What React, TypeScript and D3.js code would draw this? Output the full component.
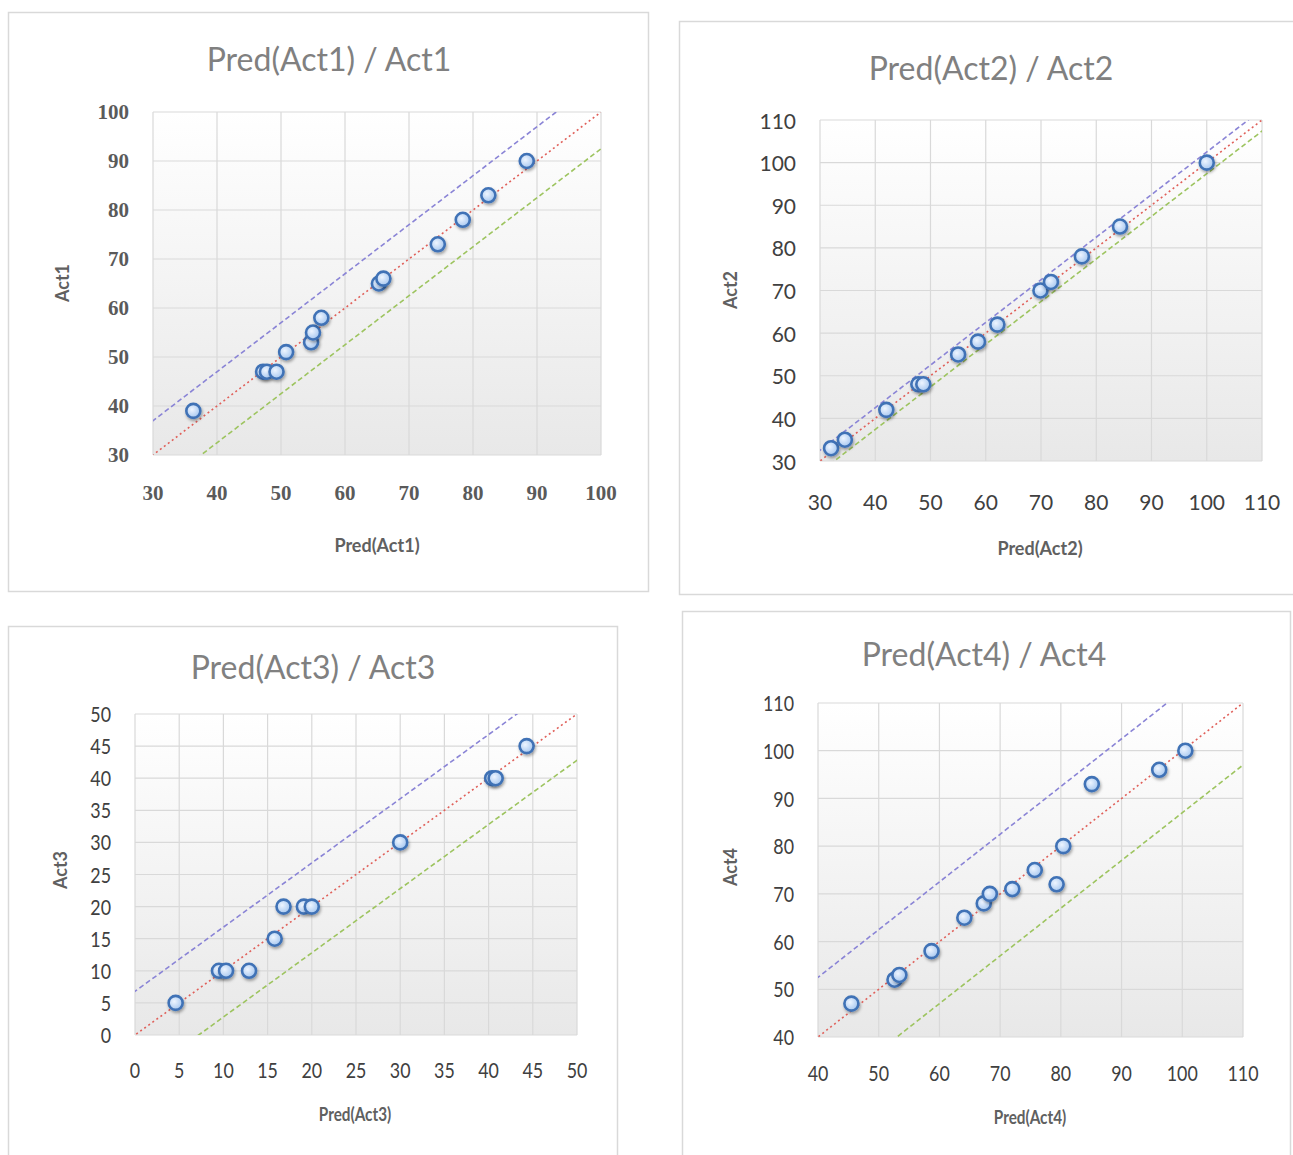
import * as d3 from "d3";

const pred1 = [36.3, 47.2, 47.8, 49.3, 50.8, 54.7, 55.0, 56.3, 65.3, 66.0, 74.5, 78.4, 82.4, 88.4];
const act1 = [39, 47, 47, 47, 51, 53, 55, 58, 65, 66, 73, 78, 83, 90];
const ticks1 = [30, 40, 50, 60, 70, 80, 90, 100];
const bands1 = [7, -7.5];

const pred2 = [32, 34.5, 42, 47.8, 48.7, 55, 58.6, 62.1, 69.9, 71.8, 77.4, 84.3, 100];
const act2 = [33, 35, 42, 48, 48, 55, 58, 62, 70, 72, 78, 85, 100];
const ticks2 = [30, 40, 50, 60, 70, 80, 90, 100, 110];
const bands2 = [2.5, -2.6];

const pred3 = [4.6, 9.5, 10.3, 12.9, 15.8, 16.8, 19.1, 20.0, 30.0, 40.4, 40.8, 44.3];
const act3 = [5, 10, 10, 10, 15, 20, 20, 20, 30, 40, 40, 45];
const ticks3 = [0, 5, 10, 15, 20, 25, 30, 35, 40, 45, 50];
const bands3 = [6.8, -7.2];

const pred4 = [45.5, 52.6, 53.4, 58.7, 64.1, 67.3, 68.3, 72, 75.7, 79.3, 80.4, 85.1, 96.2, 100.5];
const act4 = [47, 52, 53, 58, 65, 68, 70, 71, 75, 72, 80, 93, 96, 100];
const ticks4 = [40, 50, 60, 70, 80, 90, 100, 110];
const bands4 = [12.5, -13];

const charts = [
  {
    id: 1, pred: pred1, act: act1, ticks: ticks1, bands: bands1,
    frame: [8, 12, 640, 579], plot: [153, 112, 601, 455],
    title: [329, 58], xTitle: [377, 545], yTitle: [62, 283],
    tickFont: "'Liberation Serif', serif", tickWeight: 700, tickSize: 21, tickColor: "#5a5a5a", stretch: 1, xTickDy: 38,
  },
  {
    id: 2, pred: pred2, act: act2, ticks: ticks2, bands: bands2,
    frame: [679, 21, 630, 573], plot: [820, 120, 1262, 461],
    title: [991, 67], xTitle: [1040, 548], yTitle: [730, 290],
    tickFont: "Lato, sans-serif", tickWeight: 400, tickSize: 21, tickColor: "#404040", stretch: 1, xTickDy: 40,
  },
  {
    id: 3, pred: pred3, act: act3, ticks: ticks3, bands: bands3,
    frame: [8, 626, 609, 545], plot: [135, 714, 577, 1035],
    title: [313, 666], xTitle: [355, 1115], yTitle: [60, 870],
    tickFont: "Lato, sans-serif", tickWeight: 400, tickSize: 21, tickColor: "#404040", stretch: 0.85, xTickDy: 35,
  },
  {
    id: 4, pred: pred4, act: act4, ticks: ticks4, bands: bands4,
    frame: [682, 611, 608, 560], plot: [818, 703, 1243, 1037],
    title: [984, 653], xTitle: [1030, 1118], yTitle: [730, 867],
    tickFont: "Lato, sans-serif", tickWeight: 400, tickSize: 21, tickColor: "#404040", stretch: 0.85, xTickDy: 36,
  },
];

function Scatter({ c }) {
  const [x0, y0, x1, y1] = c.plot;
  const dom = [c.ticks[0], c.ticks[c.ticks.length - 1]];
  const x = d3.scaleLinear().domain(dom).range([x0, x1]);
  const y = d3.scaleLinear().domain(dom).range([y1, y0]);
  const line = d3.line<number[]>().x((d) => x(d[0])).y((d) => y(d[1]));
  const diag = (off) => line([[dom[0] - 20, dom[0] - 20 + off], [dom[1] + 20, dom[1] + 20 + off]]);
  const [fx, fy, fw, fh] = c.frame;
  const label = (t, px, py, anchor) => (
    <g key={`${anchor}${t}`} transform={`translate(${px},${py}) scale(${c.stretch},1)`}>
      <text textAnchor={anchor} dominantBaseline="central" fontFamily={c.tickFont}
        fontWeight={c.tickWeight} fontSize={c.tickSize} fill={c.tickColor}>{t}</text>
    </g>
  );
  return (
    <g>
      <rect x={fx + 0.5} y={fy + 0.5} width={fw} height={fh} fill="#fff" stroke="#d9d9d9" strokeWidth={1.5} />
      <clipPath id={`clip${c.id}`}>
        <rect x={x0} y={y0} width={x1 - x0} height={y1 - y0} />
      </clipPath>
      <rect x={x0} y={y0} width={x1 - x0} height={y1 - y0} fill="url(#plotBg)" />
      {c.ticks.map((t) => (
        <g key={t}>
          <line x1={x(t)} x2={x(t)} y1={y0} y2={y1} stroke="#d9d9d9" strokeWidth={1.2} />
          <line x1={x0} x2={x1} y1={y(t)} y2={y(t)} stroke="#d9d9d9" strokeWidth={1.2} />
        </g>
      ))}
      <g clipPath={`url(#clip${c.id})`} fill="none" strokeWidth={1.6}>
        <path d={diag(c.bands[0])} stroke="#8a84d6" strokeDasharray="5,3" />
        <path d={diag(c.bands[1])} stroke="#9dc45f" strokeDasharray="5,3" />
        <path d={diag(0)} stroke="#e0605a" strokeDasharray="2,3" />
      </g>
      {c.pred.map((p, i) => (
        <circle key={i} cx={x(p)} cy={y(c.act[i])} r={7} fill="url(#dotFill)"
          stroke="#3f72b6" strokeWidth={2.6} filter="url(#shadow)" />
      ))}
      {c.ticks.map((t) => label(t, x0 - 24, y(t), "end"))}
      {c.ticks.map((t) => label(t, x(t), y1 + c.xTickDy, "middle"))}
      <text x={c.title[0]} y={c.title[1]} textAnchor="middle" dominantBaseline="central"
        fontFamily="Lato, sans-serif" fontSize={32} fill="#808080">
        {`Pred(Act${c.id})  /  Act${c.id}`}
      </text>
      <g transform={`translate(${c.xTitle[0]},${c.xTitle[1]}) scale(${c.stretch},1)`}>
        <text textAnchor="middle" dominantBaseline="central" fontFamily="Lato, sans-serif"
          fontWeight={700} fontSize={18} fill="#606060">{`Pred(Act${c.id})`}</text>
      </g>
      <text transform={`translate(${c.yTitle[0]},${c.yTitle[1]}) rotate(-90)`} textAnchor="middle"
        dominantBaseline="central" fontFamily="Lato, sans-serif" fontWeight={700} fontSize={18}
        fill="#606060">{`Act${c.id}`}</text>
    </g>
  );
}

export default function App() {
  return (
    <svg width={1293} height={1155} style={{ position: "absolute", left: 0, top: 0, background: "#fff" }}>
      <defs>
        <linearGradient id="plotBg" x1="0" y1="0" x2="0" y2="1">
          <stop offset="0" stopColor="#ffffff" />
          <stop offset="1" stopColor="#e8e8e8" />
        </linearGradient>
        <radialGradient id="dotFill" cx="0.4" cy="0.4" r="0.6">
          <stop offset="0" stopColor="#eef5ff" />
          <stop offset="1" stopColor="#a8c8f0" />
        </radialGradient>
        <filter id="shadow" x="-50%" y="-50%" width="200%" height="200%">
          <feDropShadow dx="1" dy="2" stdDeviation="1.5" floodColor="#000" floodOpacity="0.35" />
        </filter>
      </defs>
      {charts.map((c) => (
        <Scatter key={c.id} c={c} />
      ))}
    </svg>
  );
}
